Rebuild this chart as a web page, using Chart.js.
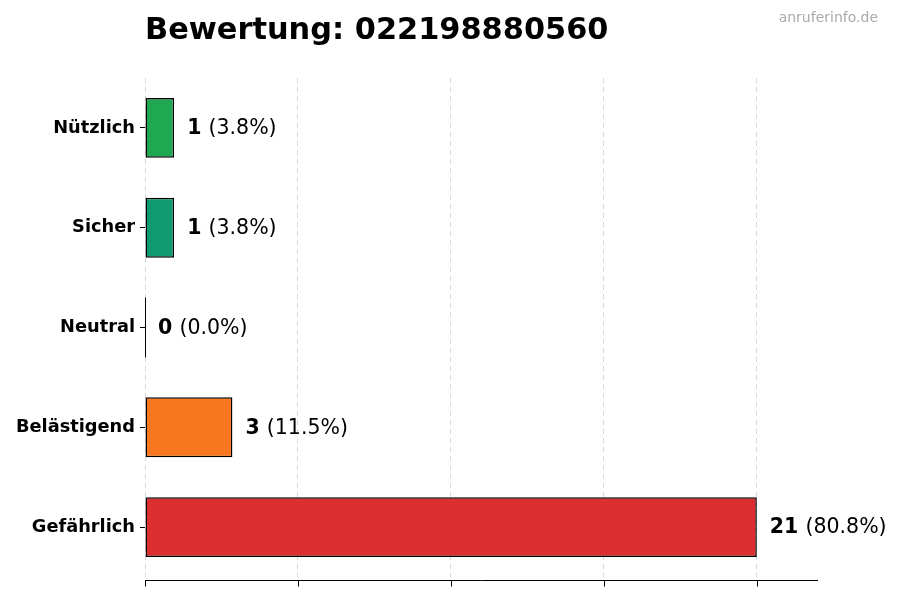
<!DOCTYPE html>
<html lang="de">
<head>
<meta charset="utf-8">
<title>Bewertung: 022198880560</title>
<script src="https://cdn.jsdelivr.net/npm/chart.js@4"></script>
<style>
  html, body { margin: 0; padding: 0; background: #fff; }
  #wrap { width: 900px; height: 600px; }
</style>
</head>
<body>
<div id="wrap"><canvas id="chart-bewertung"></canvas></div>
<script>
'use strict';

// Daten
const kategorien = ['Nützlich', 'Sicher', 'Neutral', 'Belästigend', 'Gefährlich'];
const anzahl = [1, 1, 0, 3, 21];
const xTicks = [0, 5.25, 10.5, 15.75, 21];
const titelText = 'Bewertung: 022198880560';
const quelleText = 'anruferinfo.de';

// Farben pro Kategorie
const farben = [
  'rgba(22, 163, 74, 0.96)',
  'rgba(5, 150, 105, 0.96)',
  'rgba(107, 114, 128, 0.96)',
  'rgba(249, 115, 22, 0.96)',
  'rgba(220, 38, 38, 0.96)'
];

const FONT = "'DejaVu Sans', sans-serif";
const gesamt = anzahl.reduce(function (a, b) { return a + b; }, 0);

// x-Achse etwas unterhalb des Diagrammbereichs (wie im Original)
const achsenPlugin = {
  id: 'achse',
  afterDraw: function (chart) {
    const ctx = chart.ctx;
    const sx = chart.scales.x;
    const yAchse = Math.round(chart.chartArea.bottom + 3) + 0.5;
    ctx.save();
    ctx.strokeStyle = '#000';
    ctx.lineWidth = 1;
    ctx.beginPath();
    ctx.moveTo(sx.left, yAchse);
    ctx.lineTo(sx.right, yAchse);
    xTicks.forEach(function (v) {
      const px = Math.round(sx.getPixelForValue(v)) + 0.5;
      ctx.moveTo(px, yAchse);
      ctx.lineTo(px, yAchse + 6);
    });
    ctx.stroke();
    ctx.restore();
  }
};

// Beschriftung rechts neben den Balken + Titel
const beschriftungPlugin = {
  id: 'beschriftung',
  afterDatasetsDraw: function (chart) {
    const ctx = chart.ctx;
    const meta = chart.getDatasetMeta(0);
    ctx.save();
    meta.data.forEach(function (bar, i) {
      const wert = anzahl[i];
      if (wert === 0) {
        // Null-Balken als dünne Linie
        ctx.strokeStyle = '#000';
        ctx.lineWidth = 1;
        ctx.beginPath();
        ctx.moveTo(bar.x + 0.5, bar.y - bar.height / 2);
        ctx.lineTo(bar.x + 0.5, bar.y + bar.height / 2);
        ctx.stroke();
      }
      const prozent = gesamt ? (wert / gesamt * 100).toFixed(1) : '0.0';
      let x = bar.x + 13;
      const y = bar.y + 1;
      ctx.textBaseline = 'middle';
      ctx.textAlign = 'left';
      ctx.fillStyle = '#000';
      ctx.font = 'bold 20.5px ' + FONT;
      const t1 = String(wert);
      ctx.fillText(t1, x, y);
      x += ctx.measureText(t1 + ' ').width;
      ctx.font = '20.5px ' + FONT;
      ctx.fillText('(' + prozent + '%)', x, y);
    });

    ctx.font = 'bold 30.4px ' + FONT;
    ctx.textAlign = 'left';
    ctx.textBaseline = 'middle';
    ctx.fillStyle = '#000';
    ctx.fillText(titelText, chart.chartArea.left, 31);

    ctx.font = '14px ' + FONT;
    ctx.textAlign = 'right';
    ctx.fillStyle = '#aaaaaa';
    ctx.fillText(quelleText, 878, 18);
    ctx.restore();
  }
};

const canvas = document.getElementById('chart-bewertung');
new Chart(canvas.getContext('2d'), {
  type: 'bar',
  data: {
    labels: kategorien,
    datasets: [{
      data: anzahl,
      backgroundColor: farben,
      borderColor: '#000',
      borderWidth: 1.5,
      borderSkipped: false,
      barPercentage: 0.6,
      categoryPercentage: 1
    }]
  },
  options: {
    indexAxis: 'y',
    responsive: true,
    maintainAspectRatio: false,
    animation: false,
    layout: { padding: { top: 78, right: 82, bottom: 0, left: 0 } },
    plugins: {
      legend: { display: false },
      tooltip: { enabled: false },
      title: { display: false }
    },
    scales: {
      x: {
        min: 0,
        max: 23.1,
        afterBuildTicks: function (scale) {
          scale.ticks = xTicks.map(function (v) { return { value: v }; });
        },
        afterFit: function (scale) { scale.height = 23; },
        ticks: { display: false },
        grid: {
          color: '#d9d9d9',
          lineWidth: 1,
          drawTicks: false
        },
        border: { display: false, dash: [5, 4] }
      },
      y: {
        afterFit: function (scale) { scale.width = 145; },
        ticks: {
          color: '#000',
          padding: 5,
          font: { family: FONT, size: 17.8, weight: 'bold' }
        },
        grid: {
          offset: false,
          drawOnChartArea: false,
          drawTicks: true,
          tickLength: 5,
          color: '#000'
        },
        border: { display: false }
      }
    }
  },
  plugins: [beschriftungPlugin, achsenPlugin]
});
</script>
</body>
</html>
